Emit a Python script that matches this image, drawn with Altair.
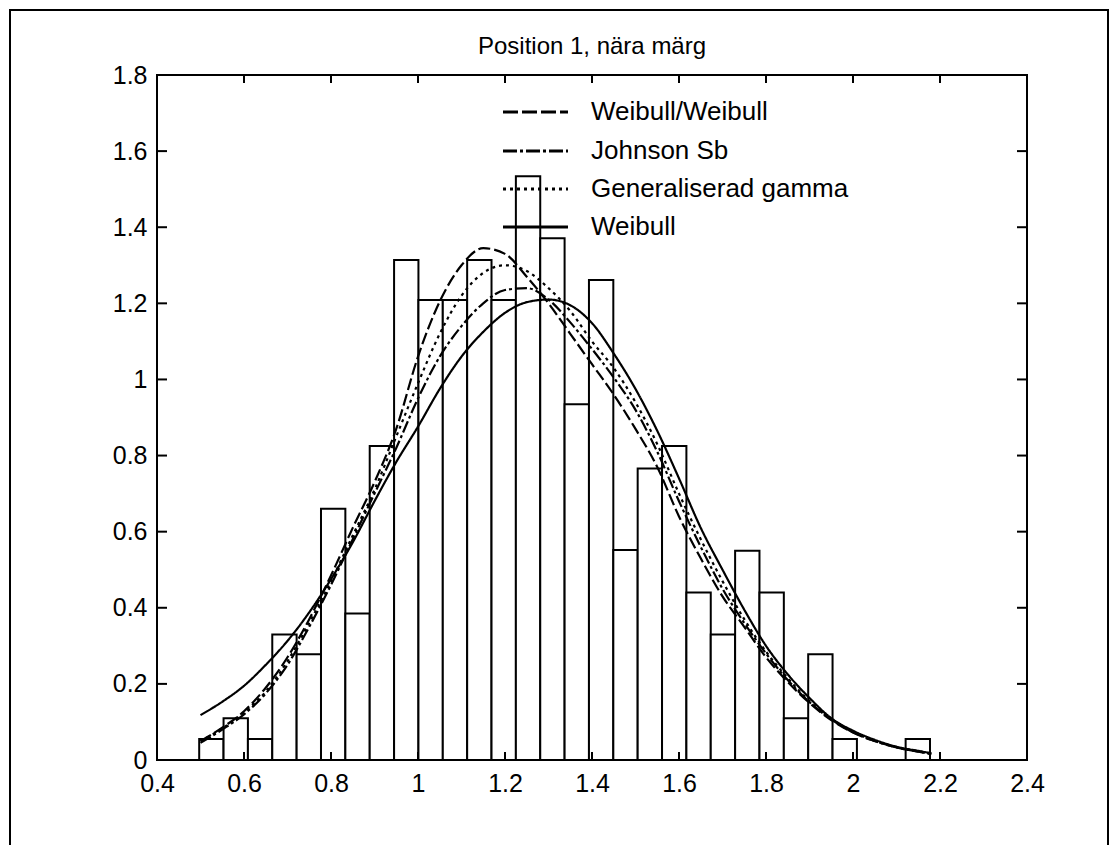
import altair as alt
import pandas as pd

# ---------------- data ----------------
bin_start = 0.497
bin_width = 0.056
bar_heights = [0.055, 0.11, 0.055, 0.33, 0.278, 0.66, 0.385, 0.825, 1.314, 1.209,
               1.209, 1.314, 1.209, 1.534, 1.371, 0.935, 1.261, 0.552, 0.766, 0.825,
               0.44, 0.33, 0.55, 0.44, 0.11, 0.278, 0.055, 0.0, 0.0, 0.055]

x_grid = [0.50, 0.55, 0.60, 0.65, 0.70, 0.75, 0.80, 0.85, 0.90, 0.95,
          1.00, 1.05, 1.10, 1.15, 1.20, 1.25, 1.30, 1.35, 1.40, 1.45,
          1.50, 1.55, 1.60, 1.65, 1.70, 1.75, 1.80, 1.85, 1.90, 1.95,
          2.00, 2.05, 2.10, 2.15, 2.18]

weibull_weibull = [0.050, 0.085, 0.128, 0.190, 0.270, 0.370, 0.485, 0.610, 0.730, 0.870,
                   1.060, 1.205, 1.300, 1.345, 1.330, 1.270, 1.200, 1.120, 1.040, 0.960,
                   0.870, 0.770, 0.640, 0.530, 0.430, 0.350, 0.270, 0.205, 0.150, 0.105,
                   0.072, 0.050, 0.033, 0.022, 0.016]

johnson_sb = [0.045, 0.080, 0.120, 0.175, 0.250, 0.350, 0.460, 0.580, 0.700, 0.820,
              0.950, 1.060, 1.140, 1.200, 1.235, 1.240, 1.210, 1.150, 1.080, 1.005,
              0.920, 0.810, 0.680, 0.560, 0.450, 0.360, 0.280, 0.210, 0.152, 0.107,
              0.073, 0.050, 0.033, 0.022, 0.016]

gen_gamma = [0.050, 0.083, 0.125, 0.180, 0.260, 0.360, 0.470, 0.590, 0.710, 0.850,
             0.990, 1.120, 1.220, 1.280, 1.300, 1.285, 1.240, 1.180, 1.100, 1.030,
             0.940, 0.830, 0.700, 0.580, 0.470, 0.370, 0.285, 0.215, 0.155, 0.108,
             0.074, 0.050, 0.034, 0.023, 0.017]

weibull = [0.118, 0.153, 0.195, 0.250, 0.313, 0.388, 0.475, 0.572, 0.680, 0.783,
           0.876, 0.975, 1.060, 1.125, 1.175, 1.203, 1.210, 1.195, 1.148, 1.068,
           0.975, 0.865, 0.740, 0.610, 0.500, 0.395, 0.300, 0.225, 0.163, 0.110,
           0.077, 0.053, 0.035, 0.024, 0.018]

series_names = ["Weibull/Weibull", "Johnson Sb", "Generaliserad gamma", "Weibull"]
series_values = [weibull_weibull, johnson_sb, gen_gamma, weibull]
dash_styles = [[12, 4], [12, 3, 3, 3], [3, 4], [1, 0]]
legend_dash_styles = [[15, 4], [14, 3, 3, 3], [3, 4], [1, 0]]

x_ticks = [0.4, 0.6, 0.8, 1.0, 1.2, 1.4, 1.6, 1.8, 2.0, 2.2, 2.4]
y_ticks = [0, 0.2, 0.4, 0.6, 0.8, 1.0, 1.2, 1.4, 1.6, 1.8]
title_text = "Position 1, nära märg"

# ---------------- tables ----------------
bars = pd.DataFrame({
    "x0": [bin_start + i * bin_width for i in range(len(bar_heights))],
    "x1": [bin_start + (i + 1) * bin_width for i in range(len(bar_heights))],
    "h": bar_heights,
})

curves = pd.DataFrame([
    {"series": name, "x": x, "y": y}
    for name, vals in zip(series_names, series_values)
    for x, y in zip(x_grid, vals)
])

W, H = 870, 685
FONT = "Liberation Sans"
TICK_FS = 25
LEG_FS = 26
TITLE_FS = 24

xs = alt.Scale(domain=[0.4, 2.4], nice=False, zero=False)
ys = alt.Scale(domain=[0, 1.8], nice=False, zero=False)

x_axis = alt.Axis(values=x_ticks, format=".1~f", ticks=False, domain=False, grid=False,
                  title=None, labelPadding=11, labelFont=FONT, labelFontSize=TICK_FS,
                  labelColor="black", labelFlush=False)
y_axis = alt.Axis(values=y_ticks, format=".1~f", ticks=False, domain=False, grid=False,
                  title=None, labelPadding=10, labelFont=FONT, labelFontSize=TICK_FS,
                  labelColor="black", labelFlush=False)


def X(field):
    return alt.X(field, scale=xs, axis=x_axis, title=None)


def Y(field):
    return alt.Y(field, scale=ys, axis=y_axis, title=None)


bar_layer = alt.Chart(bars).mark_rect(fill="white", stroke="black", strokeWidth=2).encode(
    x=X("x0:Q"),
    x2="x1:Q",
    y=Y("h:Q"),
    y2=alt.datum(0),
)

curve_layer = alt.Chart(curves).mark_line(color="black", strokeWidth=2.2,
                                          interpolate="monotone").encode(
    x=X("x:Q"),
    y=Y("y:Q"),
    strokeDash=alt.StrokeDash("series:N",
                              scale=alt.Scale(domain=series_names, range=dash_styles),
                              legend=None),
    order="x:Q",
)

xt = pd.DataFrame({"v": x_ticks})
yt = pd.DataFrame({"v": y_ticks})
tick_style = dict(color="black", strokeWidth=2)
x_bottom = alt.Chart(xt).mark_rule(**tick_style).encode(
    x=X("v:Q"), y=alt.value(H), y2=alt.value(H - 8))
x_top = alt.Chart(xt).mark_rule(**tick_style).encode(
    x=X("v:Q"), y=alt.value(0), y2=alt.value(8))
y_left = alt.Chart(yt).mark_rule(**tick_style).encode(
    y=Y("v:Q"), x=alt.value(0), x2=alt.value(10))
y_right = alt.Chart(yt).mark_rule(**tick_style).encode(
    y=Y("v:Q"), x=alt.value(W - 10), x2=alt.value(W))

one = pd.DataFrame({"t": [title_text]})
title_layer = alt.Chart(one).mark_text(font=FONT, fontSize=TITLE_FS, color="black",
                                       align="center", baseline="middle").encode(
    x=alt.value(W / 2), y=alt.value(-28), text="t:N")

legend_layers = []
row_y = [37, 76, 114, 152]
for name, dash, ry in zip(series_names, legend_dash_styles, row_y):
    d = pd.DataFrame({"t": [name]})
    legend_layers.append(
        alt.Chart(d).mark_rule(color="black", strokeWidth=3, strokeDash=dash).encode(
            x=alt.value(346), x2=alt.value(411), y=alt.value(ry)))
    legend_layers.append(
        alt.Chart(d).mark_text(font=FONT, fontSize=LEG_FS, color="black",
                               align="left", baseline="middle").encode(
            x=alt.value(434), y=alt.value(ry), text="t:N"))

frame = alt.Chart(one).mark_rect(fill=None, stroke="black", strokeWidth=2).encode(
    x=alt.value(-147), x2=alt.value(951), y=alt.value(-65), y2=alt.value(800))

chart = alt.layer(
    frame, bar_layer, curve_layer, x_bottom, x_top, y_left, y_right, title_layer,
    *legend_layers
).properties(
    width=W, height=H,
    autosize=alt.AutoSizeParams(type="none"),
    padding={"left": 157, "top": 75, "right": 91, "bottom": 85},
    background="white",
).configure_view(stroke="black", strokeWidth=2)

chart.save("out.html", embed_options={"renderer": "svg", "actions": False})
